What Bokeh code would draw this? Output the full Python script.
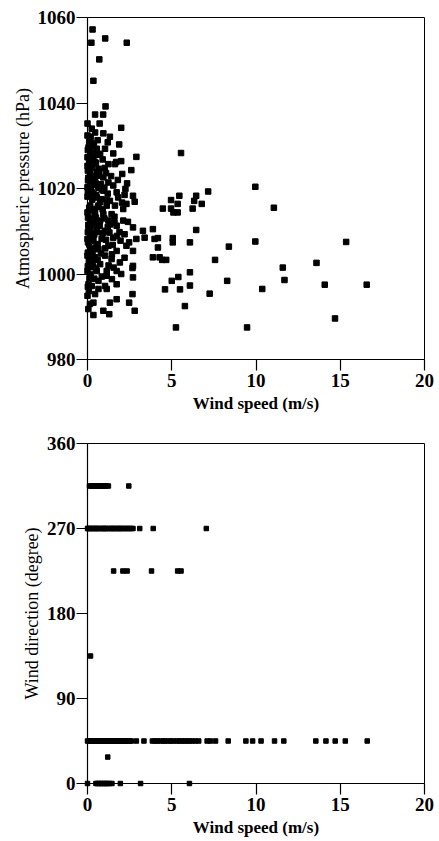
from bokeh.plotting import figure
from bokeh.layouts import column
from bokeh.models import Range1d, FixedTicker
from bokeh.embed import file_html
from bokeh.resources import INLINE

# ---------------- Data: top panel (wind speed vs atmospheric pressure) ----------------
speed_sparse = [0.3, 0.23, 1.05, 2.33, 0.7, 0.35, 1.07, 0.45, 0.93, 0.0, 0.72, 2.0]
press_sparse = [1057.2, 1054.1, 1055.1, 1054.1, 1050.2, 1045.2, 1039.2, 1037.3, 1037.3, 1035.2, 1035.2, 1034.2]

speed_upper = [0.0, 0.45, 0.94, 1.33, 0.16, 1.88, 0.06, 0.55, 1.04, 1.53, 2.9, 0.0, 0.35, 0.75,
               2.0, 1.24, 1.63, 2.6, 0.0, 0.25, 0.65, 0.16, 0.55, 2.06, 0.94, 0.16, 0.45, 2.35,
               1.24, 0.0, 0.65, 1.53, 0.94, 0.25, 1.73, 2.2, 2.7, 0.0, 0.55]
press_upper = [1032.4, 1033.1, 1032.9, 1032.1, 1032.1, 1030.3, 1029.6, 1029.3, 1029.3, 1028.2, 1027.4,
               1027.3, 1027.3, 1028.1, 1026.4, 1025.7, 1025.7, 1024.3, 1025.3, 1024.9, 1024.6, 1023.5,
               1023.8, 1023.4, 1022.6, 1021.4, 1021.8, 1021.2, 1021.4, 1020.3, 1020.3, 1020.7, 1019.5,
               1019.1, 1019.1, 1018.5, 1018.3, 1018.1, 1017.9]

speed_middle = [0.84, 1.33, 1.82, 2.31, 2.12, 0.16, 0.65, 1.14, 1.63, 0.0, 0.45, 0.94, 1.43, 2.12,
                0.16, 0.75, 1.24, 1.73, 2.7, 0.06, 0.55, 1.04, 3.29, 3.88, 2.2, 1.53, 0.0, 0.35,
                0.84, 2.9, 3.39, 3.98, 1.24, 2.31, 0.16, 0.65, 1.73, 2.7, 0.0, 0.45, 1.04, 1.43,
                3.88, 4.28, 0.16, 0.75, 1.92, 2.7, 0.0, 0.55, 1.14, 1.73, 2.47, 1.96, 2.67]
press_middle = [1017.5, 1017.1, 1017.9, 1016.4, 1015.2, 1016.0, 1016.0, 1016.0, 1016.0, 1014.4, 1014.6,
                1014.0, 1014.0, 1012.5, 1012.9, 1012.5, 1012.5, 1011.3, 1010.9, 1010.5, 1010.5, 1010.1,
                1010.1, 1010.5, 1009.3, 1008.5, 1008.2, 1007.8, 1008.2, 1008.2, 1008.5, 1008.2, 1006.6,
                1006.6, 1005.8, 1005.8, 1005.4, 1005.4, 1004.3, 1003.9, 1004.3, 1003.5, 1003.9, 1003.9,
                1002.3, 1002.3, 1002.7, 1001.9, 1000.7, 1000.7, 1000.7, 1000.7, 1007.4, 1007.8, 1001.4]

speed_lower = [1.14, 2.7, 0.06, 0.65, 1.04, 0.65, 1.73, 0.0, 0.35, 1.33, 1.73, 2.47, 2.67, 2.8,
               0.35, 0.94, 1.29, 1.14, 2.0]
press_lower = [999.6, 999.2, 997.6, 998.4, 997.2, 996.5, 997.6, 994.9, 993.3, 993.3, 994.1, 993.3,
               995.3, 991.4, 990.4, 991.4, 990.6, 996.5, 1000.0]

speed_fill = [0.1, 0.3, 0.2, 0.45, 0.1, 0.3, 0.05, 0.4, 0.2, 0.8, 0.35, 0.1, 0.3, 0.5, 0.25, 0.05,
              0.4, 0.15, 0.6, 0.1, 0.3, 0.08, 0.35, 0.12, 0.4, 0.25, 0.08, 0.45, 0.15, 0.05, 0.9,
              1.1, 1.4, 1.8, 0.85, 1.2, 1.0, 1.6, 1.9, 0.9, 1.3, 1.05, 1.5, 0.8, 1.25, 1.55, 0.85,
              1.45, 2.2, 2.4, 0.6, 1.2, 0.25]
press_fill = [1031.0, 1030.5, 1028.5, 1026.2, 1026.0, 1022.8, 1022.5, 1020.8, 1020.0, 1021.0, 1018.8,
              1015.5, 1015.2, 1013.2, 1011.8, 1011.5, 1009.2, 1009.0, 1007.0, 1006.9, 1004.8, 1003.0,
              1001.6, 999.0, 998.9, 997.2, 996.0, 995.3, 993.0, 991.8, 1026.8, 1023.6, 1022.9, 1022.0,
              1019.8, 1018.8, 1013.0, 1013.4, 1009.8, 1009.5, 1009.7, 1006.0, 1006.8, 1004.8, 1002.0,
              1001.5, 999.4, 998.8, 1003.8, 1012.2, 1031.3, 1030.8, 1034.0]

speed_fill2 = [0.02, 0.18, 0.38, 0.58, 0.02, 0.2, 0.5, 0.7, 0.03, 0.22, 0.48, 0.68, 1.0, 0.02,
               0.28, 0.52, 0.75, 1.15, 0.03, 0.2, 0.42, 0.62, 0.9, 0.02, 0.18, 0.5, 0.72, 1.2,
               0.03, 0.25, 0.55, 0.02, 0.22, 0.48, 0.02, 0.3, 0.6, 0.02, 0.2, 0.5, 1.6, 1.1,
               1.35, 1.75, 2.05, 2.25, 1.45, 0.62, 1.02, 1.7]
press_fill2 = [1029.0, 1031.8, 1030.0, 1027.9, 1024.2, 1026.6, 1025.9, 1024.0, 1021.9, 1022.2, 1021.2,
               1020.1, 1020.2, 1019.4, 1017.4, 1018.4, 1016.8, 1017.3, 1013.2, 1014.9, 1013.8, 1015.7,
               1015.1, 1009.8, 1011.0, 1011.9, 1011.2, 1011.0, 1007.4, 1009.6, 1009.8, 1005.0, 1004.2,
               1006.2, 1001.8, 1002.9, 1003.3, 997.0, 999.9, 1001.2, 1012.0, 1008.0, 1011.6, 1008.9,
               1016.7, 1019.9, 1004.6, 1023.0, 1024.8, 1026.2]

speed_right = [5.55, 7.16, 9.96, 6.45, 5.45, 4.96, 6.33, 5.35, 6.78, 4.47, 4.96, 6.24, 5.1, 5.35,
               11.06, 6.45, 4.18, 5.06, 5.06, 6.08, 9.96, 8.39, 4.18, 15.35, 4.43, 4.67, 7.57, 11.59,
               13.59, 6.08, 5.39, 5.0, 8.29, 11.69, 6.08, 4.6, 5.49, 10.37, 14.08, 16.57, 7.25, 5.78,
               14.69, 5.25, 9.47, 2.8]
press_right = [1028.3, 1019.3, 1020.4, 1018.3, 1018.3, 1017.3, 1017.1, 1016.4, 1016.4, 1015.3, 1015.3,
               1015.3, 1014.4, 1014.4, 1015.5, 1010.3, 1008.4, 1008.4, 1007.4, 1007.4, 1007.6, 1006.4,
               1006.2, 1007.5, 1003.3, 1003.3, 1003.3, 1001.5, 1002.6, 1000.4, 999.3, 998.4, 998.4,
               998.6, 997.3, 996.4, 996.4, 996.5, 997.5, 997.5, 995.4, 992.5, 989.6, 987.5, 987.5, 1016.9]

wind_speed_p = (speed_sparse + speed_upper + speed_middle + speed_lower + speed_fill
                + speed_fill2 + speed_right)
pressure = (press_sparse + press_upper + press_middle + press_lower + press_fill
            + press_fill2 + press_right)

# ---------------- Data: bottom panel (wind speed vs wind direction) ----------------
speed_315 = [0.12, 0.22, 0.3, 0.4, 0.52, 0.6, 0.7, 0.8, 0.92, 1.0, 1.1, 1.24, 2.45]
speed_270 = [0.0, 0.05, 0.15, 0.2, 0.3, 0.4, 0.45, 0.55, 0.6, 0.7, 0.8, 0.9, 0.95, 1.05, 1.1, 1.2,
             1.3, 1.4, 1.5, 1.55, 1.65, 1.75, 1.85, 1.9, 2.0, 2.1, 2.2, 2.3, 2.4, 2.5, 2.6, 2.7,
             3.1, 3.9, 7.05]
speed_225 = [1.55, 2.1, 2.35, 3.8, 5.35, 5.55]
speed_135 = [0.18]
speed_45 = [0.0, 0.1, 0.2, 0.3, 0.4, 0.5, 0.6, 0.7, 0.8, 0.9, 1.0, 1.1, 1.2, 1.3, 1.4, 1.5, 1.6,
            1.7, 1.8, 1.9, 2.0, 2.1, 2.2, 2.3, 2.4, 2.5, 2.6, 2.9, 3.35, 3.85, 4.0, 4.15, 4.3, 4.5,
            4.6, 4.8, 4.95, 5.1, 5.3, 5.45, 5.6, 5.75, 5.9, 6.05, 6.2, 6.4, 6.6, 7.1, 7.3, 7.6,
            8.35, 9.4, 9.8, 10.3, 11.1, 11.65, 13.55, 14.15, 14.7, 15.3, 16.6]
speed_28 = [1.2]
speed_0 = [0.0, 0.5, 0.6, 0.7, 0.8, 0.9, 1.0, 1.1, 1.2, 1.3, 1.45, 1.95, 3.15, 6.05]

wind_speed_d = speed_315 + speed_270 + speed_225 + speed_135 + speed_45 + speed_28 + speed_0
direction = ([315] * len(speed_315) + [270] * len(speed_270) + [225] * len(speed_225)
             + [135] * len(speed_135) + [45] * len(speed_45) + [28] * len(speed_28)
             + [0] * len(speed_0))

x_ticks = [0, 5, 10, 15, 20]
p_ticks = [980, 1000, 1020, 1040, 1060]
d_ticks = [0, 90, 180, 270, 360]

FONT = "Liberation Serif"


def style(p, yticks):
    p.xgrid.visible = False
    p.ygrid.visible = False
    p.outline_line_color = "black"
    p.outline_line_width = 1
    p.background_fill_color = "white"
    p.border_fill_color = "white"
    p.xaxis.ticker = FixedTicker(ticks=x_ticks)
    p.yaxis.ticker = FixedTicker(ticks=yticks)
    for ax in (p.xaxis[0], p.yaxis[0]):
        ax.axis_line_color = "black"
        ax.axis_line_width = 1.2
        ax.major_tick_line_color = "black"
        ax.major_tick_line_width = 1.2
        ax.major_tick_in = 0
        ax.major_tick_out = 11
        ax.minor_tick_line_color = None
        ax.major_label_text_font = FONT
        ax.major_label_text_font_style = "bold"
        ax.major_label_text_font_size = "19px"
        ax.major_label_text_color = "black"
        ax.axis_label_text_font = FONT
        ax.axis_label_text_color = "black"
    p.xaxis.major_label_standoff = 3
    p.xaxis.axis_label_standoff = 4
    p.xaxis.axis_label_text_font_style = "bold"
    p.xaxis.axis_label_text_font_size = "17px"
    p.yaxis.major_label_standoff = 1
    p.yaxis.axis_label_standoff = 2
    p.yaxis.axis_label_text_font_style = "normal"
    p.yaxis.axis_label_text_font_size = "18px"


p1 = figure(width=439, height=420, output_backend="svg", toolbar_location=None,
            x_range=Range1d(0, 20), y_range=Range1d(980, 1060),
            min_border_left=84, min_border_right=15, min_border_top=17, min_border_bottom=61,
            x_axis_label="Wind speed (m/s)", y_axis_label="Atmospheric pressure (hPa)")
style(p1, p_ticks)
p1.scatter(wind_speed_p, pressure, marker="square", size=5.5, color="black", level="overlay")

p2 = figure(width=439, height=421, output_backend="svg", toolbar_location=None,
            x_range=Range1d(0, 20), y_range=Range1d(0, 360),
            min_border_left=87, min_border_right=13, min_border_top=23, min_border_bottom=58,
            x_axis_label="Wind speed (m/s)", y_axis_label="Wind direction (degree)")
style(p2, d_ticks)
p2.scatter(wind_speed_d, direction, marker="square", size=4.5, color="black", level="overlay")

layout = column(p1, p2, spacing=0)
open("out.html", "w").write(file_html(layout, INLINE))
